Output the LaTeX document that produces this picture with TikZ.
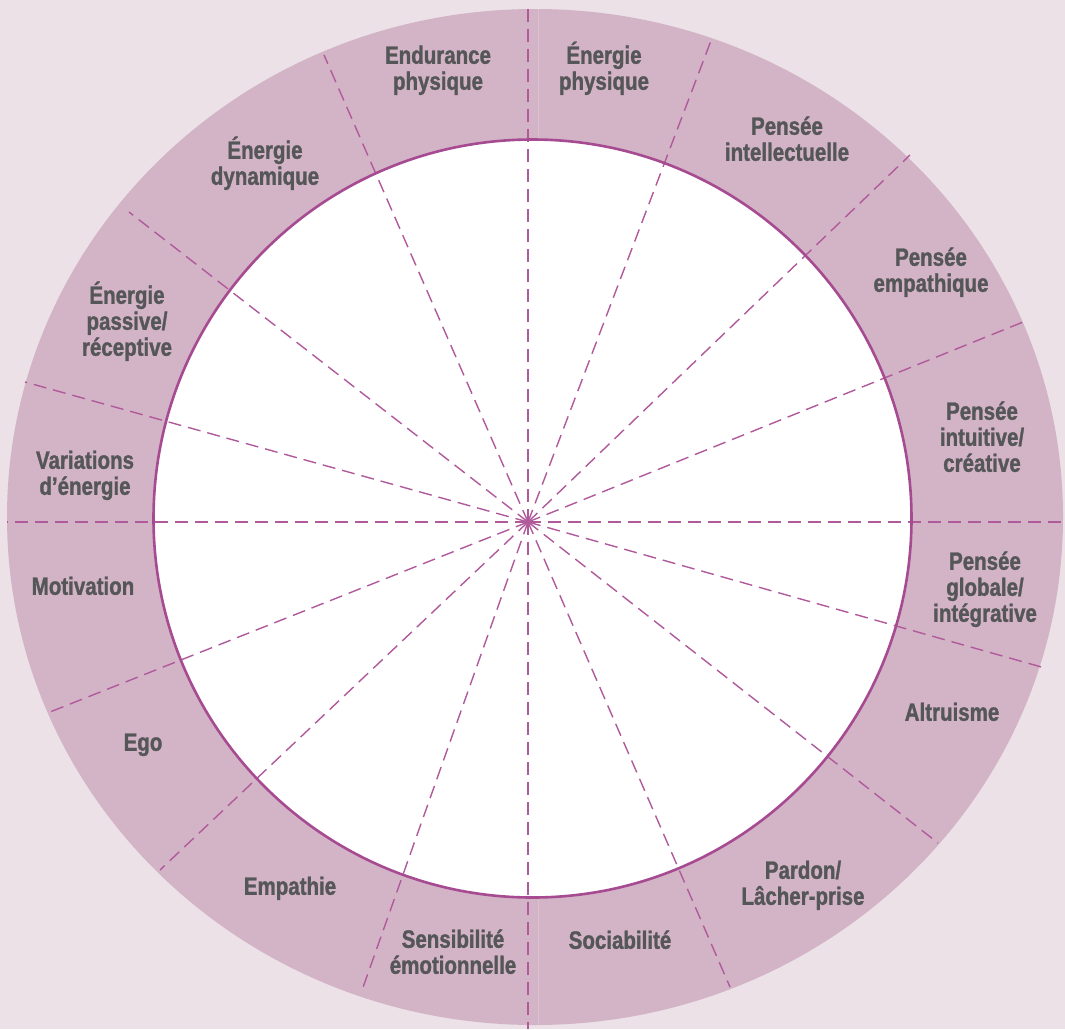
\documentclass[tikz,border=0pt]{standalone}
\usepackage{fontspec}
\newfontfamily\lblfont{Liberation Sans}[FakeStretch=0.82, FakeBold=1.2]
\definecolor{bgc}{HTML}{EBE1E7}
\definecolor{ringc}{HTML}{D3B3C6}
\definecolor{linec}{HTML}{A64B91}
\definecolor{dashc}{HTML}{B05A9C}
\definecolor{txtc}{HTML}{555658}
\definecolor{seamc}{HTML}{D9C1CF}
\newcommand\tp{\rule{0pt}{0.95em}}
\newcommand\bt{\rule[-0.25em]{0pt}{0.25em}}
\begin{document}
\begin{tikzpicture}[x=1pt,y=-1pt,
  lbl/.style={font=\lblfont\bfseries\fontsize{25}{26}\selectfont, text=txtc, align=center, inner sep=0pt},
  spoke/.style={draw=dashc, line width=1.4pt, dash pattern=on 13pt off 7pt},
  seam/.style={draw=seamc, line width=0.7pt}]
\useasboundingbox (0,0) rectangle (1065,1029);
\fill[bgc] (0,0) rectangle (1065,1029);
% ring
\fill[ringc] (535,517) ellipse [x radius=528, y radius=508];
\draw[seam] (538,9) -- (538,140);
\draw[seam] (538,897) -- (538,1025);
% inner disc
\fill[white] (532.5,518.5) circle [radius=379];
% spokes
\coordinate (c) at (528,522);
\coordinate (e0) at (1065,522);
\coordinate (e1) at (1028,320);
\coordinate (e2) at (910,155);
\coordinate (e3) at (712,38);
\coordinate (e4) at (528,9);
\coordinate (e5) at (324,55);
\coordinate (e6) at (129,212);
\coordinate (e7) at (25,382);
\coordinate (e8) at (7,522);
\coordinate (e9) at (50,712);
\coordinate (e10) at (160,870);
\coordinate (e11) at (361,993);
\coordinate (e12) at (528,1029);
\coordinate (e13) at (730,987);
\coordinate (e14) at (938,843);
\coordinate (e15) at (1045,668);
\foreach \i in {0,...,15} {\draw[spoke] (c) -- (e\i);}
\draw[linec, line width=2.6pt] (532.5,518.5) circle [radius=379];
% labels
\node[lbl] (l1) at (438,68) {\tp Endurance\\physique\bt};
\node[lbl] (l2) at (604,68) {\tp Énergie\\physique\bt};
\node[lbl] (l3) at (787,139) {\tp Pensée\\intellectuelle\bt};
\node[lbl] (l4) at (931,270) {\tp Pensée\\empathique\bt};
\node[lbl] (l5) at (982,437) {\tp Pensée\\intuitive/\\créative\bt};
\node[lbl] (l6) at (985,587) {\tp Pensée\\globale/\\intégrative\bt};
\node[lbl] (l7) at (952,712) {\tp Altruisme\bt};
\node[lbl] (l8) at (803,883) {\tp Pardon/\\Lâcher-prise\bt};
\node[lbl] (l9) at (620,940) {\tp Sociabilité\bt};
\node[lbl] (l10) at (453,952) {\tp Sensibilité\\émotionnelle\bt};
\node[lbl] (l11) at (290,886) {\tp Empathie\bt};
\node[lbl] (l12) at (143,742) {\tp Ego\bt};
\node[lbl] (l13) at (83,586) {\tp Motivation\bt};
\node[lbl] (l14) at (85,473) {\tp Variations\\d’énergie\bt};
\node[lbl] (l15) at (127,321) {\tp Énergie\\passive/\\réceptive\bt};
\node[lbl] (l16) at (265,163) {\tp Énergie\\dynamique\bt};
\end{tikzpicture}
\end{document}
